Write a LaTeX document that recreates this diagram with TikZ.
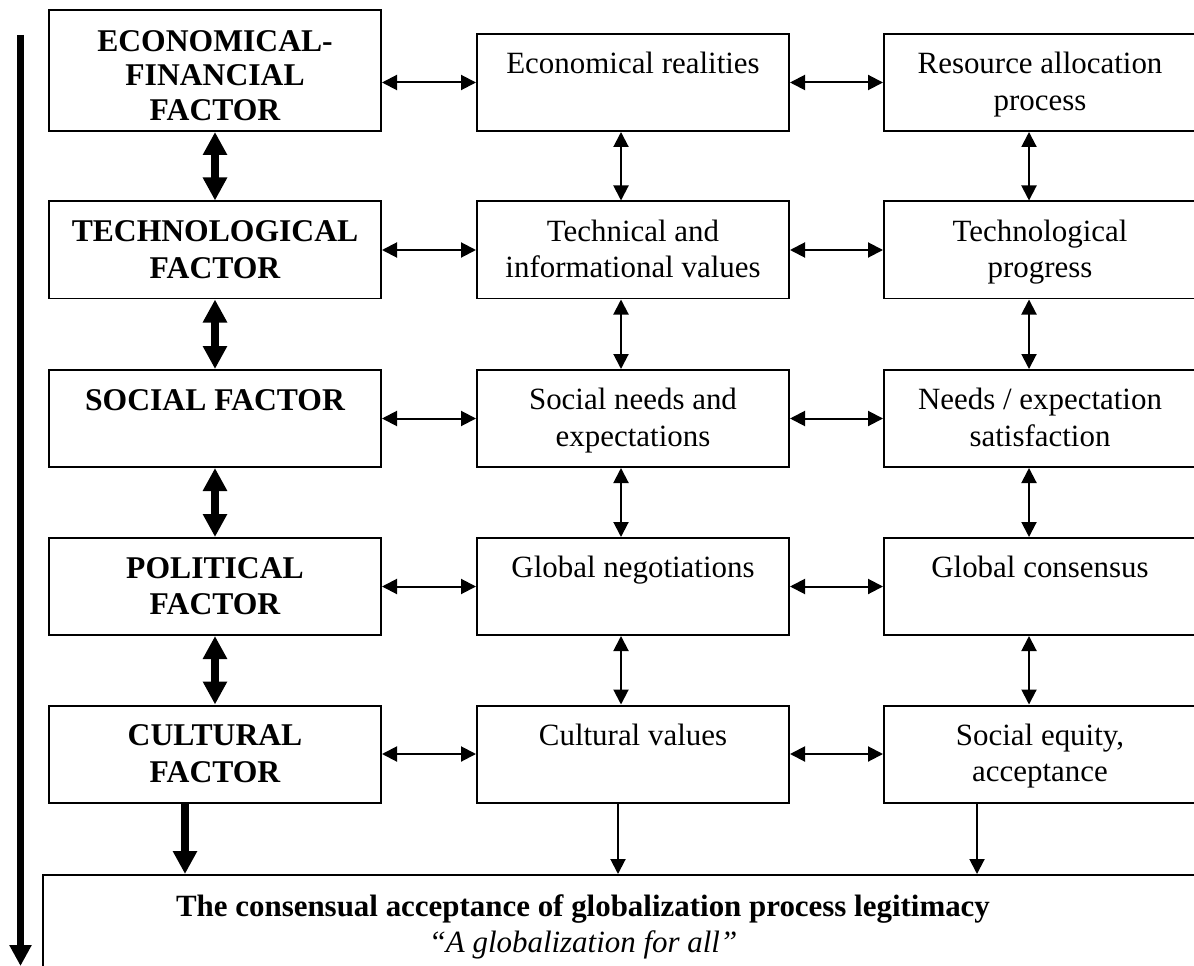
\documentclass[tikz,border=0pt]{standalone}
\usepackage{fontspec}
\setmainfont{Liberation Serif}
\usetikzlibrary{arrows.meta,positioning}
\tikzset{
  box/.style={draw, line width=0.04cm, minimum width=6.24cm, minimum height=1.94cm, inner sep=0pt},
  factor/.style={box, minimum width=6.64cm},
  txt/.style={align=center, inner sep=0pt, font=\fontsize{17.6}{20.6}\selectfont},
  ftxt/.style={txt, font=\fontsize{18}{20.8}\selectfont\bfseries},
  link/.style={line width=0.04cm, >={Triangle[length=0.3cm,width=0.3cm]}, <->},
  fat/.style={line width=0.16cm, >={Triangle[length=0.46cm,width=0.46cm]}, <->}
}

\begin{document}
\begin{tikzpicture}
  \useasboundingbox (0,0) rectangle (23.88,-19.32);
  \clip (0,0) rectangle (23.88,-19.32);
  % factors
  \node[factor, minimum height=2.42cm] (l1) at (4.30,-1.41) {};
  \node[factor] (l2) at (4.30,-5.00) {};
  \node[factor] (l3) at (4.30,-8.37) {};
  \node[factor] (l4) at (4.30,-11.73) {};
  \node[factor] (l5) at (4.30,-15.08) {};
  \node[ftxt, font=\fontsize{18}{19.6}\selectfont\bfseries, below=0.42cm of l1.north] (l1t) {ECONOMICAL-\\FINANCIAL\\FACTOR};
  \node[ftxt, below=0.4cm of l2.north] (l2t) {TECHNOLOGICAL\\FACTOR};
  \node[ftxt, below=0.4cm of l3.north] (l3t) {SOCIAL FACTOR};
  \node[ftxt, below=0.4cm of l4.north] (l4t) {POLITICAL\\FACTOR};
  \node[ftxt, below=0.4cm of l5.north] (l5t) {CULTURAL\\FACTOR};
  % middle column
  \node[box] (m1) at (12.66,-1.65) {};
  \node[box] (m2) at (12.66,-5.00) {};
  \node[box] (m3) at (12.66,-8.37) {};
  \node[box] (m4) at (12.66,-11.73) {};
  \node[box] (m5) at (12.66,-15.08) {};
  \node[txt, below=0.38cm of m1.north] (m1t) {Economical realities};
  \node[txt, below=0.38cm of m2.north] (m2t) {Technical and\\informational values};
  \node[txt, below=0.38cm of m3.north] (m3t) {Social needs and\\expectations};
  \node[txt, below=0.38cm of m4.north] (m4t) {Global negotiations};
  \node[txt, below=0.38cm of m5.north] (m5t) {Cultural values};
  % right column
  \node[box] (r1) at (20.80,-1.65) {};
  \node[box] (r2) at (20.80,-5.00) {};
  \node[box] (r3) at (20.80,-8.37) {};
  \node[box] (r4) at (20.80,-11.73) {};
  \node[box] (r5) at (20.80,-15.08) {};
  \node[txt, below=0.38cm of r1.north] (r1t) {Resource allocation\\process};
  \node[txt, below=0.38cm of r2.north] (r2t) {Technological\\progress};
  \node[txt, below=0.38cm of r3.north] (r3t) {Needs / expectation\\satisfaction};
  \node[txt, below=0.38cm of r4.north] (r4t) {Global consensus};
  \node[txt, below=0.38cm of r5.north] (r5t) {Social equity,\\acceptance};
  % result
  \node[box, anchor=north west, minimum width=26cm, minimum height=4cm] (g) at (0.84,-17.48) {};
  \node[txt, anchor=north] (gt) at (11.66,-17.88)
    {\textbf{The consensual acceptance of globalization process legitimacy}\\\textit{“A globalization for all”}};
  % horizontal links
  \draw[link] (l1.east |- m1.west) -- (m1.west);
  \foreach \i in {2,...,5} \draw[link] (l\i.east) -- (m\i.west);
  \foreach \i in {1,...,5} \draw[link] (m\i.east) -- (r\i.west);
  % vertical links
  \foreach \a/\b in {1/2,2/3,3/4,4/5} {
    \draw[fat] (l\a.south) -- (l\b.north);
    \draw[link] ([xshift=-0.24cm]m\a.south) -- ([xshift=-0.24cm]m\b.north);
    \draw[link] ([xshift=-0.22cm]r\a.south) -- ([xshift=-0.22cm]r\b.north);
  }
  \draw[fat, ->] ([xshift=-0.6cm]l5.south) -- ([xshift=-0.6cm]l5.south |- g.north);
  \draw[link, ->] ([xshift=-0.30cm]m5.south) -- ([xshift=-0.30cm]m5.south |- g.north);
  \draw[link, ->] ([xshift=-1.26cm]r5.south) -- ([xshift=-1.26cm]r5.south |- g.north);
  % time axis
  \coordinate (top) at (0.41,-0.70);
  \coordinate (bot) at (0.41,-19.32);
  \draw[line width=0.14cm, -{Triangle[length=0.42cm,width=0.42cm]}] (top) -- (bot);
\end{tikzpicture}
\end{document}
